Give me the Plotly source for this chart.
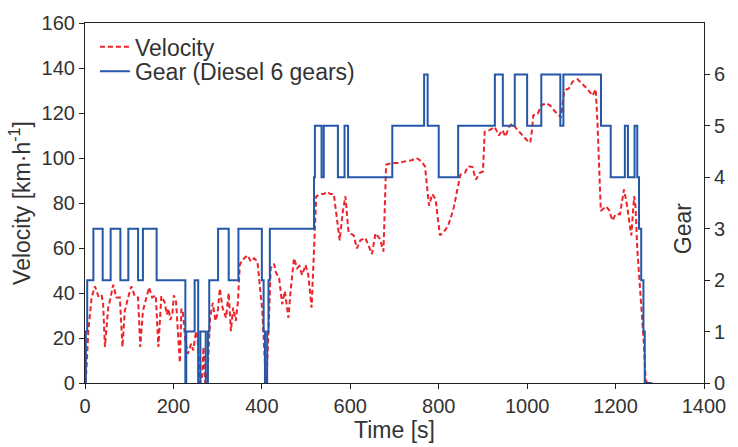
import plotly.graph_objects as go

# Drive-cycle velocity trace [km/h] sampled at (time [s], value)
vel_time = [0, 3, 7.5, 11, 15, 22.5, 30, 37.5, 41, 45, 52.5, 58, 63.7, 71, 78.8, 84.8, 90, 97.5,
            105, 112.5, 120, 125, 131, 139, 144.8, 152, 160, 166, 172.6, 180, 185, 189, 193,
            197.5, 201, 206, 212, 214.5, 218, 221, 227, 232.6, 240, 245, 251, 255, 260.4, 265,
            268, 272, 277.6, 283, 289, 295, 300, 305, 311, 319, 325, 330, 335, 341, 346, 350,
            356, 367.6, 375, 382.6, 390, 395, 401, 407, 410, 415, 420, 427.6, 431, 439, 446,
            452, 460, 465, 472.6, 480, 485, 491, 499, 505, 512.5, 517.7, 523, 532.7, 540,
            547.6, 555, 562.7, 570, 576, 583, 589, 596, 607.7, 615, 622.7, 634, 649, 657, 667,
            675, 681, 694, 709, 724, 739, 750, 761, 769, 772.7, 778, 785.5, 793, 799, 803,
            814, 821.5, 833, 842.5, 849, 859, 866.5, 876, 884, 893, 900, 904, 915, 926.6, 936,
            944, 951, 959, 966, 979, 990, 999, 1007, 1011, 1014, 1024, 1031.6, 1043, 1052,
            1061.6, 1076.6, 1084, 1095, 1103, 1114, 1125, 1136.6, 1148, 1155, 1159, 1163,
            1166.6, 1178, 1185, 1193, 1200, 1210, 1219, 1225, 1230.5, 1235.6, 1242, 1245,
            1249, 1256.6, 1264, 1268, 1272, 1283]
velocity = [0, 5, 23, 32, 38, 43, 38.6, 39.3, 35, 16, 33.5, 38, 43.7, 38, 38, 16, 32, 38,
            43, 38.6, 38, 16, 32, 38, 42.5, 38, 39, 16, 38.6, 36, 30.5, 33, 28,
            30.5, 39, 36, 20, 9, 33, 32, 19, 13, 17.4, 14.5, 23, 19, 0, 3,
            16, 0, 5.7, 29, 35.6, 27.6, 31, 42, 33.5, 29, 40, 23, 33.5, 27.6, 36.4, 52.5,
            54.7, 56.8, 54, 55.4, 54, 45, 32, 8.6, 0, 23, 51, 53, 49.5, 46.6, 35,
            40.8, 29, 40.8, 55.4, 51, 52, 48, 52.5, 48, 33.5, 58, 83, 84, 84,
            85, 84, 84, 71.5, 63.4, 76, 83, 67, 65.6, 59.8, 63.4, 64.5, 57.3, 66.5, 64,
            58.5, 97, 97.8, 97.8, 98.5, 99, 100, 98.5, 96.3, 87.5, 78.8, 84, 81.7, 71.5, 65.6,
            67.8, 70, 77, 87, 92.6, 93.4, 96.3, 96, 90.4, 93.4, 94, 111.7, 112.4, 113.8, 110,
            112.4, 109.5, 113.8, 115.3, 112.4, 110, 108, 106.8, 112.4, 119, 119.7, 123.3, 124.4, 123.3,
            121, 118, 130, 131, 134, 135, 133, 130.6, 127.7, 130.6, 116, 97.8,
            76.5, 78.5, 77, 72.2, 75, 75, 86, 80, 71.5, 65.6, 83, 78.8,
            60, 40, 17.4, 1.3, 0, 0]

# Selected gear, given as (time of shift [s], gear engaged from then on)
gear_time = [0, 2, 5, 19, 40, 58, 80, 98, 120, 131, 162, 227, 229, 248, 256, 261, 273, 278,
             281, 301, 325, 347, 400, 404, 407, 412, 415, 418, 518, 520, 535, 540, 572, 587,
             595, 695, 767, 775, 800, 844, 927, 945, 972, 1000, 1032, 1075, 1082, 1167, 1189,
             1221, 1228, 1243, 1249, 1253, 1258, 1263, 1266, 1283]
gear = [0, 1, 2, 3, 2, 3, 2, 3, 2, 3, 2, 0, 1, 2, 0, 1, 0, 1,
        2, 3, 2, 3, 2, 1, 0, 1, 2, 3, 4, 5, 4, 5, 4, 5,
        4, 5, 6, 5, 4, 5, 6, 5, 6, 5, 6, 5, 6, 5, 4,
        5, 4, 5, 4, 3, 2, 1, 0, 0]

x_ticks = [0, 200, 400, 600, 800, 1000, 1200, 1400]
v_ticks = [0, 20, 40, 60, 80, 100, 120, 140, 160]
g_ticks = [0, 1, 2, 3, 4, 5, 6]

FONT = "Liberation Sans"
TXT = "#333333"

fig = go.Figure()
fig.add_trace(go.Scatter(
    x=vel_time, y=velocity, name="Velocity", mode="lines", legend="legend",
    line=dict(color="#ee2229", width=2, dash="5px,3px"),
))
fig.add_trace(go.Scatter(
    x=gear_time, y=gear, name="Gear (Diesel 6 gears)", mode="lines", yaxis="y2",
    legend="legend2",
    line=dict(color="#2457a8", width=2, shape="hv"),
))

axis_common = dict(
    showgrid=False, zeroline=False, showline=True, linecolor="#222222", linewidth=1.2,
    ticks="outside", ticklen=5, tickcolor="#222222",
    tickfont=dict(family=FONT, size=20, color=TXT),
)

legend_common = dict(
    xanchor="left", yanchor="middle", bgcolor="rgba(0,0,0,0)",
    font=dict(family=FONT, size=23, color=TXT), itemwidth=30,
)

fig.update_layout(
    width=738, height=447,
    margin=dict(l=85, r=31, t=18, b=64),
    plot_bgcolor="white", paper_bgcolor="white",
    font=dict(family=FONT, size=20, color=TXT),
    showlegend=True,
    legend=dict(x=0.016, y=0.934, **legend_common),
    legend2=dict(x=0.016, y=0.866, **legend_common),
    xaxis=dict(
        range=[0, 1400], tickvals=x_ticks, mirror=True,
        title=dict(text="Time [s]", font=dict(family=FONT, size=23, color=TXT), standoff=0),
        **axis_common,
    ),
    yaxis=dict(
        range=[0, 160], tickvals=v_ticks,
        title=dict(text="Velocity [km·h<sup>-1</sup>]", font=dict(family=FONT, size=23, color=TXT),
                   standoff=4),
        **axis_common,
    ),
    yaxis2=dict(
        range=[0, 7], tickvals=g_ticks, overlaying="y", side="right",
        **axis_common,
    ),
    annotations=[dict(
        text="Gear", xref="paper", yref="paper", x=0.966, y=0.43,
        xanchor="center", yanchor="middle",
        showarrow=False, textangle=-90, font=dict(family=FONT, size=23, color=TXT),
    )],
)

fig.write_html("out.html")
